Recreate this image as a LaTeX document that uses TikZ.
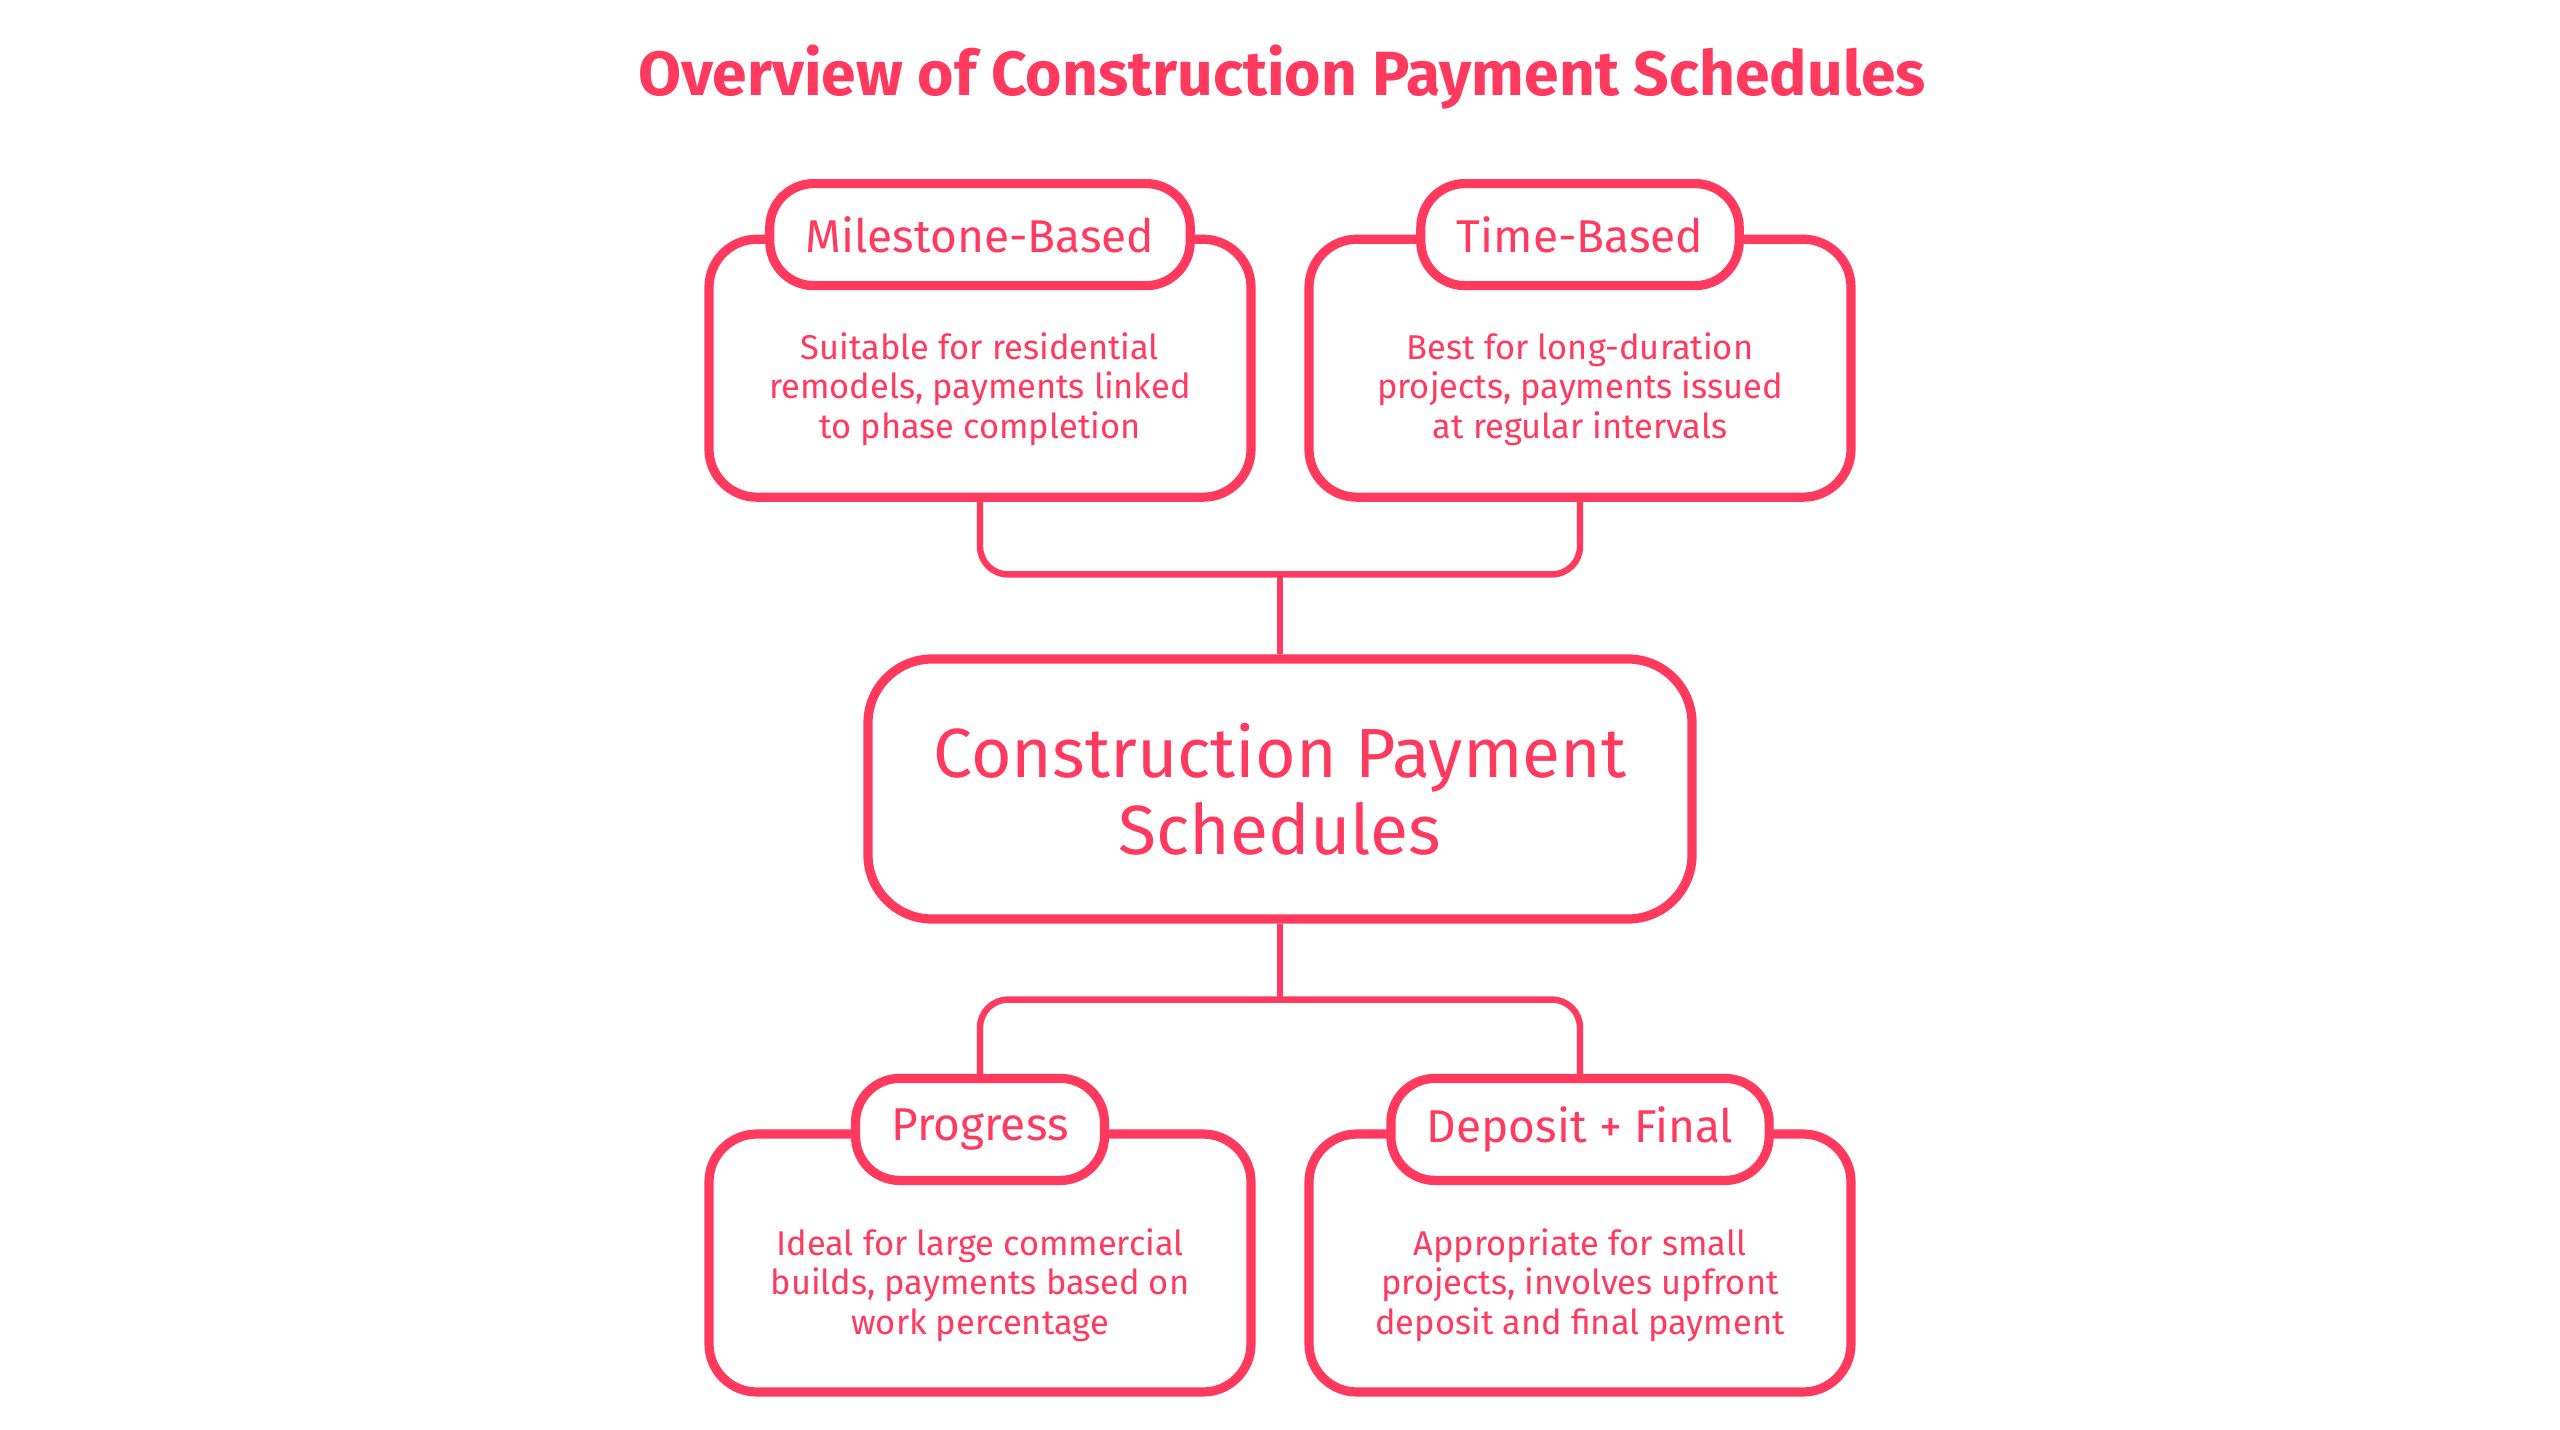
\documentclass[tikz,border=0pt]{standalone}
\usepackage{fontspec}
\setmainfont{Fira Sans}
\usetikzlibrary{positioning}
\definecolor{rose}{HTML}{FF3A5E}

\begin{document}
\begin{tikzpicture}[x=1pt, y=1pt,
    every node/.style={text=rose, font=\fontsize{8.6}{9.85}\selectfont},
    card/.style={draw=rose, line width=2.3pt, rounded corners=12pt, fill=white,
      minimum width=135.5pt, minimum height=64.5pt},
    tab/.style={draw=rose, line width=2.3pt, rounded corners=11pt, fill=white,
      minimum height=25.5pt, inner xsep=9pt, font=\fontsize{11.5}{13}\selectfont},
    blurb/.style={align=center},
    link/.style={draw=rose, line width=1.6pt, rounded corners=7pt}]
  \useasboundingbox (0,0) rectangle (640,357.25);

  % title
  \node[font=\bfseries\fontsize{15.6}{17}\selectfont] (title) at (320.5, 338)
    {Overview of Construction Payment Schedules};

  % central node
  \node[draw=rose, line width=2.3pt, rounded corners=16pt, minimum width=206pt,
        minimum height=65pt, align=center, font=\fontsize{17.4}{19.25}\selectfont]
    (hub) at (320, 160) {Construction Payment\\Schedules};

  % upper cards
  \node[card] (mile) at (245, 265.2) {};
  \node[card] (time) at (395, 265.2) {};
  \node[tab] (miletab) at (mile.north) {Milestone-Based};
  \node[tab] (timetab) at (time.north) {Time-Based};
  \node[blurb] at ([yshift=-5.25pt]mile.center)
    {Suitable for residential\\remodels, payments linked\\to phase completion};
  \node[blurb] at ([yshift=-5.25pt]time.center)
    {Best for long-duration\\projects, payments issued\\at regular intervals};

  % lower cards
  \node[card] (prog) at (245, 41.5) {};
  \node[card] (depo) at (395, 41.5) {};
  \node[tab] (progtab) at (prog.north) {Progress};
  \node[tab] (depotab) at (depo.north) {Deposit + Final};
  \node[blurb] at ([yshift=-5.5pt]prog.center)
    {Ideal for large commercial\\builds, payments based on\\work percentage};
  \node[blurb] at ([yshift=-5.5pt]depo.center)
    {Appropriate for small\\projects, involves upfront\\deposit and final payment};

  % connectors
  \coordinate[above=20pt of hub.north] (upbus);
  \coordinate[below=19pt of hub.south] (lowbus);
  \draw[link] (mile.south) |- (upbus) -| (time.south);
  \draw[link] (upbus) -- (hub.north);
  \draw[link] (hub.south) -- (lowbus);
  \draw[link] (progtab.north) |- (lowbus) -| (depotab.north);
\end{tikzpicture}
\end{document}
